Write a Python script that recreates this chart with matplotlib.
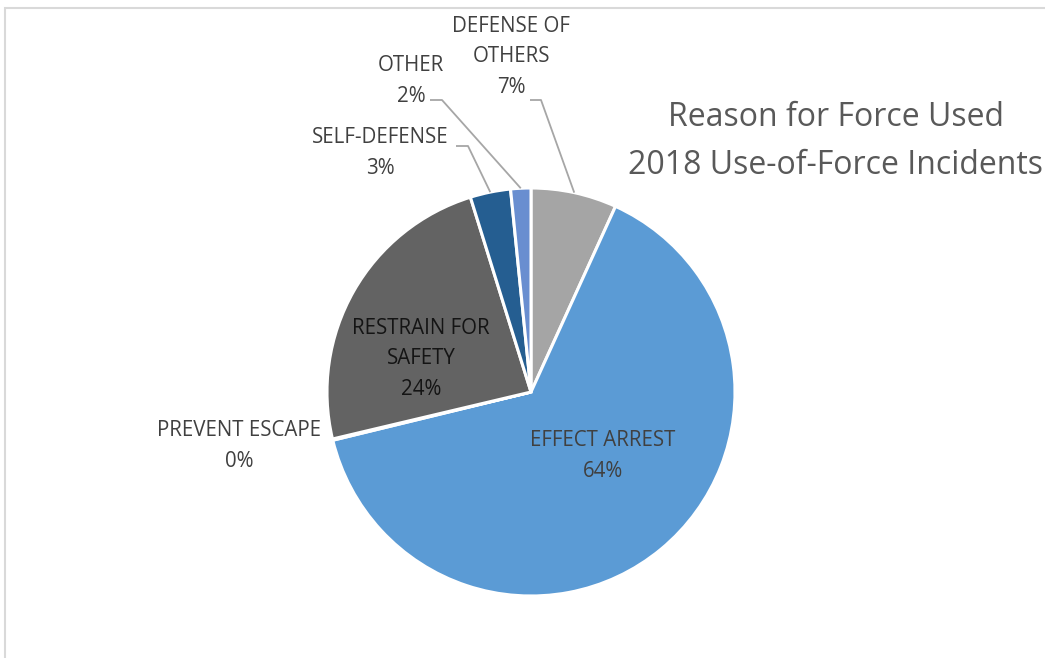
import numpy as np
import matplotlib.pyplot as plt
from matplotlib.patches import Rectangle

# data (percent of 2018 use-of-force incidents)
reasons = ["DEFENSE OF\nOTHERS", "EFFECT ARREST", "PREVENT ESCAPE",
           "RESTRAIN FOR\nSAFETY", "SELF-DEFENSE", "OTHER"]
shares = [6.8, 64.4, 0.1, 23.9, 3.2, 1.6]
pct_labels = ["7%", "64%", "0%", "24%", "3%", "2%"]
colors = ["#A5A5A5", "#5B9BD5", "#264478", "#636363", "#255E91", "#698ED0"]

W, H = 1045, 658
plt.rcParams['font.family'] = ['Open Sans', 'DejaVu Sans']

fig = plt.figure(figsize=(W / 100, H / 100), dpi=100)
ax = fig.add_axes([0, 0, 1, 1])

cx, cy, r = 531, H - 392, 204
wedges, _ = ax.pie(shares, colors=colors, startangle=90, counterclock=False,
                   center=(cx, cy), radius=r, frame=True,
                   wedgeprops=dict(edgecolor='white', linewidth=2.2))
ax.set_xlim(0, W)
ax.set_ylim(0, H)
ax.set_aspect('equal')
ax.axis('off')

txt = dict(fontsize=14.8, ha='center', va='center', linespacing=1.62)

# label positions in pixel coords (x, y from top)
label_pos = {0: (511, 57), 1: (603, 456), 2: (239, 446),
             3: (421, 359), 4: (380, 153), 5: (411, 81)}
# leader lines: label-side anchor (pixel coords) for outside labels
leaders = {0: (530, 100, 541), 5: (430, 100, 442), 4: (456, 146, 468)}

for i, w in enumerate(wedges):
    x, y = label_pos[i]
    col = '#141414' if i == 3 else '#404040'
    ax.text(x, H - y, reasons[i] + "\n" + pct_labels[i], color=col, **txt)
    if i in leaders:
        x0, y0, x1 = leaders[i]
        ang = np.deg2rad((w.theta1 + w.theta2) / 2)
        ex, ey = cx + r * np.cos(ang), cy + r * np.sin(ang)
        ax.plot([x0, x1, ex], [H - y0, H - y0, ey], color='#A6A6A6',
                lw=1.3, solid_capstyle='butt')

ax.text(836, H - 142, "Reason for Force Used\n2018 Use-of-Force Incidents",
        fontsize=23, color='#595959', ha='center', va='center',
        linespacing=1.6)

fig.patches.append(Rectangle((5 / W, -0.1), 1.2, (H - 8) / H + 0.1,
                             transform=fig.transFigure, fill=False,
                             edgecolor='#D9D9D9', lw=1.5))

fig.savefig("out.png", dpi=100)
